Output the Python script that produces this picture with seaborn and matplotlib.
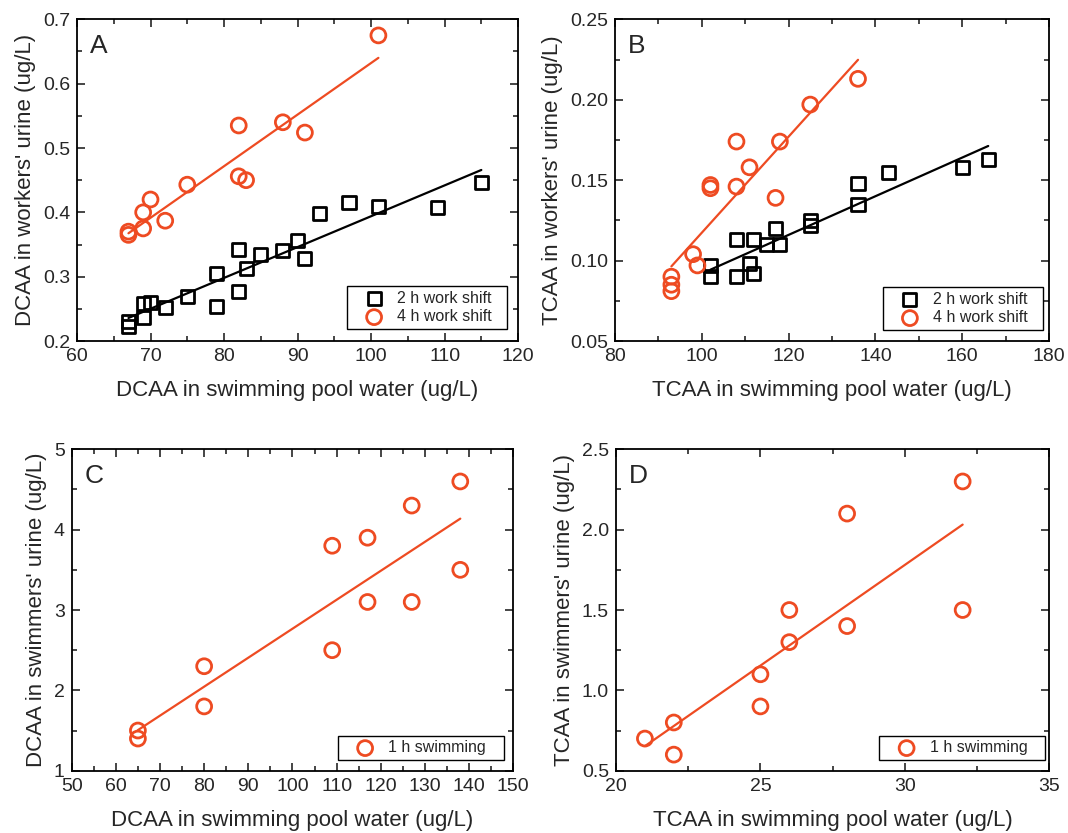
import numpy as np
import matplotlib
matplotlib.use("Agg")
import matplotlib.pyplot as plt
from matplotlib.ticker import MultipleLocator, FormatStrFormatter
import seaborn as sns

# ---------------- data ----------------
# Panel A: DCAA, workers
a_x_2h = [67, 67, 69, 69, 70, 72, 75, 79, 79, 82, 82, 83, 85, 88, 90, 91, 93, 97, 101, 109, 115]
a_y_2h = [0.230, 0.223, 0.258, 0.236, 0.260, 0.252, 0.269, 0.305, 0.254, 0.343, 0.277, 0.313,
          0.335, 0.340, 0.357, 0.329, 0.398, 0.415, 0.409, 0.408, 0.447]
a_x_4h = [67, 67, 69, 69, 70, 72, 75, 82, 82, 83, 88, 91, 101]
a_y_4h = [0.365, 0.370, 0.400, 0.375, 0.420, 0.387, 0.443, 0.535, 0.456, 0.450, 0.540, 0.524, 0.675]

# Panel B: TCAA, workers
b_x_2h = [102, 102, 108, 108, 111, 112, 112, 115, 117, 118, 125, 125, 136, 136, 143, 160, 166]
b_y_2h = [0.097, 0.090, 0.113, 0.090, 0.098, 0.113, 0.092, 0.110, 0.120, 0.110, 0.125, 0.122,
          0.148, 0.135, 0.155, 0.158, 0.163]
b_x_4h = [93, 93, 93, 98, 99, 102, 102, 108, 108, 111, 117, 118, 125, 136]
b_y_4h = [0.090, 0.085, 0.081, 0.104, 0.097, 0.147, 0.145, 0.174, 0.146, 0.158, 0.139, 0.174,
          0.197, 0.213]

# Panel C: DCAA, swimmers
c_x = [65, 65, 80, 80, 109, 109, 117, 117, 127, 127, 138, 138]
c_y = [1.5, 1.4, 2.3, 1.8, 3.8, 2.5, 3.9, 3.1, 4.3, 3.1, 4.6, 3.5]

# Panel D: TCAA, swimmers
d_x = [21, 22, 22, 25, 25, 26, 26, 28, 28, 32, 32]
d_y = [0.7, 0.8, 0.6, 1.1, 0.9, 1.5, 1.3, 2.1, 1.4, 2.3, 1.5]

labels_workers = ["2 h work shift", "4 h work shift"]
label_swim = "1 h swimming"

# ---------------- style ----------------
sns.set_style("ticks")
plt.rcParams["font.family"] = ["Liberation Sans", "DejaVu Sans"]

ORANGE = "#EE4B22"
BLACK = "#000000"

fig = plt.figure(figsize=(10.68, 8.33), dpi=100)
axA = fig.add_axes([0.0721, 0.5906, 0.4130, 0.3862])
axB = fig.add_axes([0.5758, 0.5906, 0.4064, 0.3862])
axC = fig.add_axes([0.0671, 0.0748, 0.4135, 0.3858])
axD = fig.add_axes([0.5768, 0.0748, 0.4057, 0.3858])

TICK_FS = 14
LABEL_FS = 16
LETTER_FS = 19
LEG_FS = 11.5


def scatter(ax, x, y, marker, color, label):
    s = 88 if marker == "s" else 115
    sns.scatterplot(x=x, y=y, ax=ax, marker=marker, s=s, facecolor="none",
                    edgecolor=color, linewidth=2.0, label=label, zorder=3)


def fit(ax, x, y, color):
    sns.regplot(x=np.array(x, float), y=np.array(y, float), ax=ax, scatter=False,
                ci=None, truncate=True, color=color, line_kws={"linewidth": 1.6, "zorder": 2})


def style(ax, xlim, ylim, xmaj, ymaj, yfmt, xlabel, ylabel, letter, legbox):
    ax.set_xlim(*xlim)
    ax.set_ylim(*ylim)
    ax.xaxis.set_major_locator(MultipleLocator(xmaj))
    ax.xaxis.set_minor_locator(MultipleLocator(xmaj / 2))
    ax.yaxis.set_major_locator(MultipleLocator(ymaj))
    ax.yaxis.set_minor_locator(MultipleLocator(ymaj / 2))
    ax.yaxis.set_major_formatter(FormatStrFormatter(yfmt))
    ax.tick_params(which="both", direction="in", top=True, right=True, width=1.2,
                   labelsize=TICK_FS, pad=5)
    ax.tick_params(which="major", length=6)
    ax.tick_params(which="minor", length=3.5)
    for sp in ax.spines.values():
        sp.set_linewidth(1.3)
        sp.set_color("black")
    ax.set_xlabel(xlabel, fontsize=LABEL_FS, labelpad=11)
    ax.set_ylabel(ylabel, fontsize=LABEL_FS, labelpad=5)
    ax.text(0.03, 0.955, letter, transform=ax.transAxes, fontsize=LETTER_FS,
            va="top", ha="left")
    leg = ax.legend(loc="lower left", bbox_to_anchor=legbox, mode="expand",
                    fontsize=LEG_FS, frameon=True, fancybox=False,
                    edgecolor="black", framealpha=1, borderaxespad=0,
                    handletextpad=0.05, borderpad=0.3, labelspacing=0.2,
                    handlelength=2.8)
    leg.get_frame().set_linewidth(1.0)


# Panel A
scatter(axA, a_x_2h, a_y_2h, "s", BLACK, labels_workers[0])
scatter(axA, a_x_4h, a_y_4h, "o", ORANGE, labels_workers[1])
fit(axA, a_x_2h, a_y_2h, BLACK)
fit(axA, a_x_4h, a_y_4h, ORANGE)
style(axA, (60, 120), (0.2, 0.7), 10, 0.1, "%.1f",
      "DCAA in swimming pool water (ug/L)", "DCAA in workers' urine (ug/L)", "A",
      (0.612, 0.037, 0.363, 0.13))

# Panel B
scatter(axB, b_x_2h, b_y_2h, "s", BLACK, labels_workers[0])
scatter(axB, b_x_4h, b_y_4h, "o", ORANGE, labels_workers[1])
fit(axB, b_x_2h, b_y_2h, BLACK)
fit(axB, b_x_4h, b_y_4h, ORANGE)
style(axB, (80, 180), (0.05, 0.25), 20, 0.05, "%.2f",
      "TCAA in swimming pool water (ug/L)", "TCAA in workers' urine (ug/L)", "B",
      (0.617, 0.034, 0.369, 0.13))

# Panel C
scatter(axC, c_x, c_y, "o", ORANGE, label_swim)
fit(axC, c_x, c_y, ORANGE)
style(axC, (50, 150), (1, 5), 10, 1, "%d",
      "DCAA in swimming pool water (ug/L)", "DCAA in swimmers' urine (ug/L)", "C",
      (0.603, 0.033, 0.377, 0.07))

# Panel D
scatter(axD, d_x, d_y, "o", ORANGE, label_swim)
fit(axD, d_x, d_y, ORANGE)
style(axD, (20, 35), (0.5, 2.5), 5, 0.5, "%.1f",
      "TCAA in swimming pool water (ug/L)", "TCAA in swimmers' urine (ug/L)", "D",
      (0.608, 0.033, 0.381, 0.07))

fig.savefig("out.png", dpi=100)
